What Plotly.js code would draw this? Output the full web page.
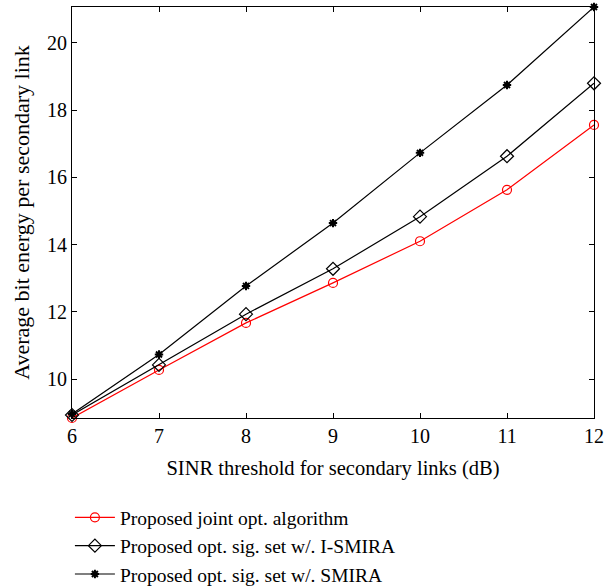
<!DOCTYPE html>
<html>
<head>
<meta charset="utf-8">
<script src="https://cdn.plot.ly/plotly-3.0.1.min.js"></script>
<style>html,body{margin:0;padding:0;background:#fff;}#plot{width:608px;height:586px;}</style>
</head>
<body>
<div id="plot"></div>
<script>
var sinr = [6, 7, 8, 9, 10, 11, 12];
var jointOpt = [8.84, 10.27, 11.67, 12.86, 14.1, 15.63, 17.56];
var iSmira = [8.93, 10.42, 11.93, 13.28, 14.83, 16.63, 18.8];
var smira = [8.96, 10.73, 12.77, 14.64, 16.73, 18.75, 21.07];
var names = ["Proposed joint opt. algorithm", "Proposed opt. sig. set w/. I-SMIRA", "Proposed opt. sig. set w/. SMIRA"];
var xTicks = [6, 7, 8, 9, 10, 11, 12];
var yTicks = [10, 12, 14, 16, 18, 20];

var traces = [
  {x: sinr, y: jointOpt, name: names[0], mode: 'lines+markers', cliponaxis: false,
   line: {color: '#ff0000', width: 1.2},
   marker: {symbol: 'circle-open', size: 9, color: '#ff0000', line: {width: 1.2, color: '#ff0000'}}},
  {x: sinr, y: iSmira, name: names[1], mode: 'lines+markers', cliponaxis: false,
   line: {color: '#000000', width: 1.2},
   marker: {symbol: 'diamond-open', size: 10, color: '#000000', line: {width: 1.2, color: '#000000'}}},
  {x: sinr, y: smira, name: names[2], mode: 'lines+markers', cliponaxis: false,
   line: {color: '#000000', width: 1.2},
   marker: {symbol: 'asterisk-open', size: 7, color: '#000000', line: {width: 2, color: '#000000'}}}
];

var fontFam = "'Times New Roman', 'Liberation Serif', serif";
var layout = {
  width: 608, height: 586,
  margin: {l: 72, r: 14, t: 7, b: 168, autoexpand: false},
  paper_bgcolor: '#ffffff', plot_bgcolor: '#ffffff',
  font: {family: fontFam, size: 20, color: '#000'},
  showlegend: true,
  legend: {x: -0.004, xanchor: 'left', y: -0.195, yanchor: 'top', orientation: 'v', itemwidth: 40,
           font: {family: fontFam, size: 19.5, color: '#000'}, bgcolor: 'rgba(0,0,0,0)', borderwidth: 0},
  xaxis: {range: [6, 12], tickvals: xTicks, ticktext: xTicks.map(String),
          ticks: 'inside', ticklen: 5, tickcolor: '#000', showline: true, linecolor: '#000', linewidth: 1,
          mirror: 'ticks', showgrid: false, zeroline: false,
          tickfont: {family: fontFam, size: 20},
          title: {text: 'SINR threshold for secondary links (dB)', font: {family: fontFam, size: 20.5}, standoff: 14}},
  yaxis: {range: [8.84, 21.07], tickvals: yTicks, ticktext: yTicks.map(String),
          ticks: 'inside', ticklen: 5, tickcolor: '#000', showline: true, linecolor: '#000', linewidth: 1,
          mirror: 'ticks', showgrid: false, zeroline: false,
          tickfont: {family: fontFam, size: 20},
          title: {text: 'Average bit energy per secondary link', font: {family: fontFam, size: 22}, standoff: 11}}
};
Plotly.newPlot('plot', traces, layout, {displayModeBar: false, staticPlot: true});
</script>
</body>
</html>
